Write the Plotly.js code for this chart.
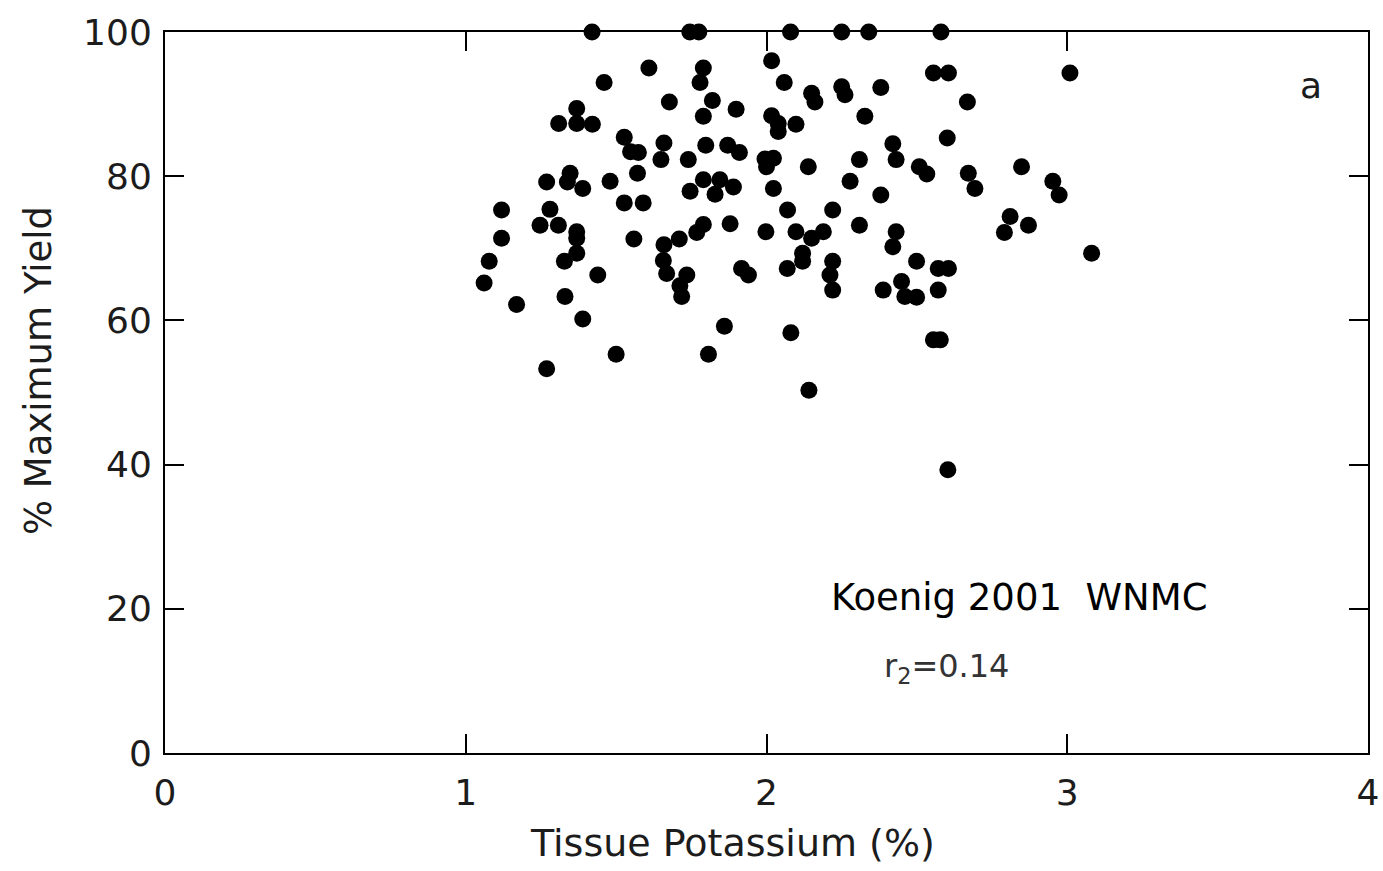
<!DOCTYPE html>
<html>
<head>
<meta charset="utf-8">
<script src="https://cdn.plot.ly/plotly-3.0.1.min.js"></script>
<style>
  html, body { margin: 0; padding: 0; background: #ffffff; }
  #chart { width: 1383px; height: 871px; }
</style>
</head>
<body>
<div id="chart"></div>
<script>
// Tissue potassium (%) readings
const tissueK = [
  1.42, 1.745, 1.775, 2.08, 2.25, 2.34, 2.58,
  2.017, 1.609, 1.790, 1.779, 1.460, 2.059, 1.677, 1.820, 1.899, 1.369,
  1.309, 1.369, 1.421, 1.790, 2.017, 2.039, 2.039, 2.098, 1.527, 1.548,
  1.574, 1.659, 1.649, 1.740, 1.798, 1.871, 1.910, 1.995, 2.023, 2.000,
  1.269, 1.347, 1.338, 1.389, 1.480, 1.571, 1.527, 1.590, 1.746, 1.790,
  1.845, 1.890, 1.829, 2.023, 1.119, 1.280, 1.247, 1.308, 1.369, 1.369,
  1.369, 1.328, 1.119, 1.078, 1.061, 1.169, 1.330, 1.439, 1.389, 1.269,
  1.500, 1.559, 1.659, 1.657, 1.710, 1.768, 1.790, 1.668, 1.735, 1.712,
  1.718, 1.879, 1.998, 1.917, 1.940, 1.860, 1.807,
  3.009, 2.555, 2.605, 2.150, 2.161, 2.250, 2.261, 2.380, 2.668, 2.327,
  2.601, 2.420, 2.431, 2.139, 2.309, 2.508, 2.533, 2.671, 2.693, 2.848,
  2.952, 2.973, 2.278, 2.380, 2.070, 2.220,
  2.098, 2.150, 2.189, 2.120, 2.120, 2.069, 2.220, 2.211, 2.220, 2.309,
  2.431, 2.420, 2.499, 2.388, 2.449, 2.460, 2.499, 2.571, 2.605, 2.571,
  2.555, 2.578, 2.081, 2.141, 2.603, 2.810, 2.791, 2.871, 3.081
];
// % maximum yield readings
const pctYield = [
  100, 100, 100, 100, 100, 100, 100,
  96, 95, 95, 93, 93, 93, 90.3, 90.5, 89.3, 89.4,
  87.3, 87.3, 87.2, 88.3, 88.4, 87.3, 86.2, 87.2, 85.4, 83.4,
  83.3, 84.6, 82.3, 82.3, 84.3, 84.3, 83.3, 82.4, 82.5, 81.3,
  79.2, 80.4, 79.2, 78.3, 79.3, 80.4, 76.3, 76.3, 77.9, 79.5,
  79.5, 78.5, 77.5, 78.3, 75.3, 75.4, 73.2, 73.2, 72.3, 71.4,
  69.3, 68.2, 71.4, 68.2, 65.2, 62.2, 63.3, 66.3, 60.2, 53.3,
  55.3, 71.3, 70.5, 68.3, 71.3, 72.2, 73.3, 66.5, 66.3, 64.8,
  63.3, 73.4, 72.3, 67.2, 66.3, 59.2, 55.3,
  94.3, 94.3, 94.3, 91.5, 90.3, 92.4, 91.3, 92.3, 90.3, 88.3,
  85.3, 84.5, 82.3, 81.3, 82.3, 81.3, 80.3, 80.4, 78.3, 81.3,
  79.3, 77.4, 79.3, 77.4, 75.3, 75.3,
  72.3, 71.4, 72.3, 69.3, 68.2, 67.2, 68.2, 66.3, 64.2, 73.2,
  72.3, 70.2, 68.2, 64.2, 65.4, 63.3, 63.2, 67.2, 67.2, 64.2,
  57.3, 57.3, 58.3, 50.3, 39.3, 74.4, 72.2, 73.2, 69.3
];
const xTicks = [0, 1, 2, 3, 4];
const yTicks = [0, 20, 40, 60, 80, 100];
const xTitle = 'Tissue Potassium (%)';
const yTitle = '% Maximum Yield';
const studyLabel = 'Koenig 2001  WNMC';
const fitLabel = 'r<sub>2</sub>=0.14';
const panelLabel = 'a';

const textColor = '#1c1c1c';
const fontFam = 'DejaVu Sans, Liberation Sans, Arial, sans-serif';

const trace = {
  type: 'scatter',
  mode: 'markers',
  x: tissueK,
  y: pctYield,
  cliponaxis: false,
  marker: { color: '#000000', size: 17, line: { width: 0 } },
  hoverinfo: 'x+y'
};

const axisCommon = {
  showline: true,
  linecolor: '#000000',
  linewidth: 2,
  mirror: 'ticks',
  ticks: 'inside',
  ticklen: 19,
  tickwidth: 2,
  tickcolor: '#000000',
  showgrid: false,
  zeroline: false,
  tickfont: { family: fontFam, size: 36, color: textColor }
};

const layout = {
  width: 1383,
  height: 871,
  margin: { l: 165, r: 15, t: 32, b: 118 },
  paper_bgcolor: '#ffffff',
  plot_bgcolor: '#ffffff',
  showlegend: false,
  xaxis: Object.assign({}, axisCommon, {
    range: [0, 4],
    tickmode: 'array',
    tickvals: xTicks,
    ticktext: xTicks.map(String),
    ticklabelstandoff: 7
  }),
  yaxis: Object.assign({}, axisCommon, {
    range: [0, 100],
    tickmode: 'array',
    tickvals: yTicks,
    ticktext: yTicks.map(String),
    ticklabelstandoff: 4
  }),
  annotations: [
    {
      x: 0.472, y: -0.125, xref: 'paper', yref: 'paper',
      text: xTitle, showarrow: false,
      xanchor: 'center', yanchor: 'middle',
      font: { family: fontFam, size: 38, color: textColor }
    },
    {
      x: -0.1056, y: 0.531, xref: 'paper', yref: 'paper',
      text: yTitle, showarrow: false, textangle: -90,
      xanchor: 'center', yanchor: 'middle',
      font: { family: fontFam, size: 37, color: textColor }
    },
    {
      x: 2.84, y: 21.5, xref: 'x', yref: 'y',
      text: studyLabel, showarrow: false,
      xanchor: 'center', yanchor: 'middle',
      font: { family: fontFam, size: 37, color: '#000000' }
    },
    {
      x: 2.60, y: 11.8, xref: 'x', yref: 'y',
      text: fitLabel, showarrow: false,
      xanchor: 'center', yanchor: 'middle',
      font: { family: fontFam, size: 32, color: '#333333' }
    },
    {
      x: 3.81, y: 92.6, xref: 'x', yref: 'y',
      text: panelLabel, showarrow: false,
      xanchor: 'center', yanchor: 'middle',
      font: { family: fontFam, size: 36, color: textColor }
    }
  ]
};

Plotly.newPlot('chart', [trace], layout, { displayModeBar: false, staticPlot: true });
</script>
</body>
</html>
